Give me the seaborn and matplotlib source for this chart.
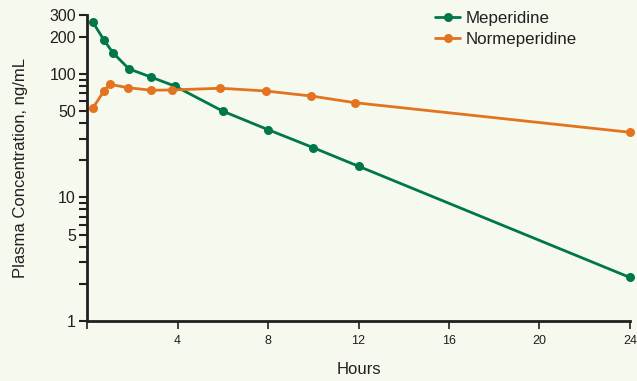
import matplotlib
matplotlib.use("Agg")
import matplotlib.pyplot as plt
import matplotlib.ticker as mticker
import seaborn as sns
import pandas as pd

# Data
mep_hours = [0.25, 0.75, 1.15, 1.85, 2.85, 3.9, 6, 8, 10, 12, 24]
mep_conc = [264, 188, 148, 110, 94, 79.5, 50, 35.4, 25.3, 17.9, 2.25]
nor_hours = [0.25, 0.75, 1.0, 1.8, 2.85, 3.75, 5.9, 7.9, 9.9, 11.85, 24]
nor_conc = [52.7, 72.8, 82.5, 77.4, 73.8, 74.2, 76.6, 72.8, 66.3, 58.5, 33.7]
series_names = ["Meperidine", "Normeperidine"]
x_ticks = [4, 8, 12, 16, 20, 24]
y_major = [1, 5, 10, 50, 100, 200, 300]
y_minor = [2, 3, 4, 6, 7, 8, 9, 20, 30, 40, 60, 70, 80, 90]

df = pd.DataFrame({
    "Hours": mep_hours + nor_hours,
    "Conc": mep_conc + nor_conc,
    "Drug": [series_names[0]] * len(mep_hours) + [series_names[1]] * len(nor_hours),
})

sns.set_style("ticks")
plt.rcParams["font.family"] = ["Liberation Sans", "DejaVu Sans"]

bg = "#F5F9EE"
green = "#00774B"
orange = "#E3731F"
ink = "#231F20"

fig = plt.figure(figsize=(6.37, 3.81), dpi=100, facecolor=bg)
ax = fig.add_axes([0.1366, 0.1575, 0.989 - 0.1366, 0.9606 - 0.1575])
ax.set_facecolor(bg)

sns.lineplot(data=df, x="Hours", y="Conc", hue="Drug",
             palette={series_names[0]: green, series_names[1]: orange},
             marker="o", markersize=6.5, markeredgewidth=0, linewidth=2,
             ax=ax, clip_on=False, legend=True)

ax.set_yscale("log")
ax.set_xlim(0, 24)
ax.set_ylim(1, 300)

ax.xaxis.set_major_locator(mticker.FixedLocator(x_ticks))
ax.xaxis.set_major_formatter(mticker.FixedFormatter([str(t) for t in x_ticks]))
ax.xaxis.set_minor_locator(mticker.FixedLocator([0]))
ax.yaxis.set_major_locator(mticker.FixedLocator(y_major))
ax.yaxis.set_major_formatter(mticker.FixedFormatter([str(t) for t in y_major]))
ax.yaxis.set_minor_locator(mticker.FixedLocator(y_minor))
ax.yaxis.set_minor_formatter(mticker.NullFormatter())

for s in ["top", "right"]:
    ax.spines[s].set_visible(False)
for s in ["left", "bottom"]:
    ax.spines[s].set_linewidth(2)
    ax.spines[s].set_color(ink)

ax.tick_params(axis="y", which="both", direction="out", length=6, width=1.5,
               color=ink, labelsize=11.5, labelcolor=ink, pad=2)
ax.tick_params(axis="x", which="both", direction="out", length=6, width=1.2,
               color=ink, labelsize=9, labelcolor=ink, pad=4)

ax.set_xlabel("Hours", fontsize=12, color=ink, labelpad=11)
ax.set_ylabel("Plasma Concentration, ng/mL", fontsize=12, color=ink, labelpad=15)

leg = ax.legend(loc="upper left", bbox_to_anchor=(0.629, 1.036), frameon=False,
                fontsize=12.2, handlelength=1.45, handletextpad=0.35,
                labelspacing=0.38, borderaxespad=0)
for t in leg.get_texts():
    t.set_color(ink)

fig.savefig("out.png", dpi=100, facecolor=bg)
